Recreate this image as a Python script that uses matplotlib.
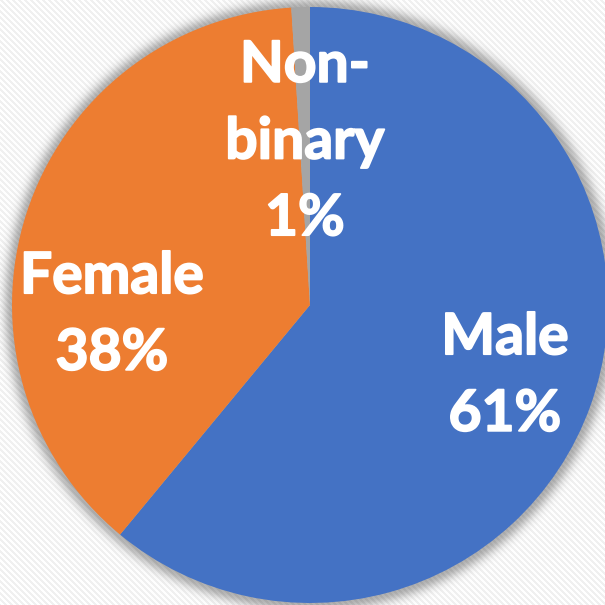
import numpy as np
import matplotlib
matplotlib.use("Agg")
import matplotlib.pyplot as plt
import matplotlib.patheffects as pe

labels = ["Male", "Female", "Non-\nbinary"]
values = [61, 38, 1]
colors = ["#4472C4", "#ED7D31", "#A5A5A5"]
pct_labels = ["61%", "38%", "1%"]

W = H = 605
fig = plt.figure(figsize=(6.05, 6.05), dpi=100)
ax = fig.add_axes([0, 0, 1, 1])

cx, cy, R = 310, 300, 298

# background: faint diagonal stripes + soft shadow
yy, xx = np.mgrid[0:H, 0:W]
stripe = ((xx - yy) % 6) < 3
bg = np.ones((H, W, 3))
bg[stripe] = 0.945
d = np.sqrt((xx - cx) ** 2 + ((H - yy) - cy) ** 2) - R
shade = 0.30 * np.exp(-(np.clip(d, 0, None) / 9.0) ** 2)
bg = bg * (1 - shade[..., None])
ax.imshow(bg, extent=[0, W, 0, H], origin="upper", zorder=0)

ax.pie(values, colors=colors, startangle=90, counterclock=False,
       center=(cx, cy), radius=R, frame=True,
       wedgeprops=dict(linewidth=0))
ax.set_xlim(0, W)
ax.set_ylim(0, H)
ax.set_aspect("equal")
ax.axis("off")

pos = [(505, 229), (112, 290), (305, 463)]
for (x, y), lab, p in zip(pos, labels, pct_labels):
    ax.text(x, y, f"{lab}\n{p}", ha="center", va="center", multialignment="center",
            color="white", fontsize=41, fontweight="bold", family="Lato",
            linespacing=1.55, zorder=5,
            path_effects=[pe.withStroke(linewidth=1.3, foreground="white")])

fig.savefig("out.png", dpi=100)
